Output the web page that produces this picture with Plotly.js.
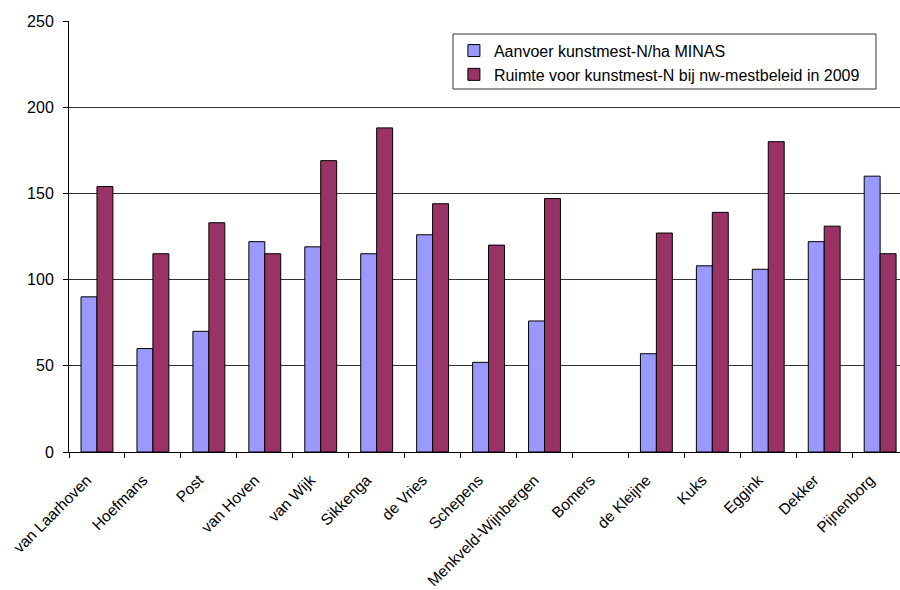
<!DOCTYPE html>
<html>
<head>
<meta charset="utf-8">
<script src="https://cdn.plot.ly/plotly-3.0.1.min.js"></script>
<style>html,body{margin:0;padding:0;background:#fff;}#chart{width:900px;height:590px;}</style>
</head>
<body>
<div id="chart"></div>
<script>
var categories = ["van Laarhoven","Hoefmans","Post","van Hoven","van Wijk","Sikkenga","de Vries","Schepens","Menkveld-Wijnbergen","Bomers","de Kleijne","Kuks","Eggink","Dekker","Pijnenborg"];
var aanvoer = [90, 60, 70, 122, 119, 115, 126, 52, 76, null, 57, 108, 106, 122, 160];
var ruimte = [154, 115, 133, 115, 169, 188, 144, 120, 147, null, 127, 139, 180, 131, 115];
var seriesNames = ["Aanvoer kunstmest-N/ha MINAS", "Ruimte voor kunstmest-N bij nw-mestbeleid in 2009"];
var yTicks = [0, 50, 100, 150, 200, 250];

var family = "Liberation Sans, Arial, sans-serif";
var font = {family: family, size: 16, color: "#000"};

var data = [
  {type: "bar", name: seriesNames[0], x: categories, y: aanvoer,
   marker: {color: "#9999FF", line: {color: "#000", width: 1}}},
  {type: "bar", name: seriesNames[1], x: categories, y: ruimte,
   marker: {color: "#993366", line: {color: "#000", width: 1}}}
];

var layout = {
  width: 900, height: 590,
  margin: {l: 69, r: 0, t: 21, b: 138},
  paper_bgcolor: "#fff", plot_bgcolor: "#fff",
  font: font,
  barmode: "group", bargap: 0.43, bargroupgap: 0,
  showlegend: true,
  legend: {x: 0.4632, y: 0.9706, xanchor: "left", yanchor: "top",
    bgcolor: "rgba(0,0,0,0)", borderwidth: 0,
    font: {family: family, size: 16, color: "#000"}, itemwidth: 30, tracegroupgap: 4},
  shapes: [{type: "rect", xref: "paper", yref: "paper",
    x0: 0.4621, x1: 0.9711, y0: 0.8422, y1: 0.9698,
    line: {color: "#333", width: 1}, fillcolor: "#fff", layer: "above"}],
  xaxis: {type: "category", range: [-0.5, 14.355], tickson: "boundaries",
    ticks: "outside", ticklen: 5, tickcolor: "#000", tickangle: -45,
    ticklabelstandoff: 12, ticklabelshift: -10,
    showline: true, linecolor: "#000", linewidth: 1, showgrid: false,
    tickfont: {family: family, size: 15.5, color: "#000"}, fixedrange: true},
  yaxis: {range: [0, 250], tickvals: yTicks, ticktext: yTicks.map(String),
    ticks: "outside", ticklen: 5, tickcolor: "#000", ticklabelstandoff: 6,
    showline: true, linecolor: "#000", linewidth: 1,
    showgrid: true, gridcolor: "#333", gridwidth: 1, zeroline: false,
    tickfont: font, fixedrange: true}
};

Plotly.newPlot("chart", data, layout, {displayModeBar: false, staticPlot: true});
</script>
</body>
</html>
